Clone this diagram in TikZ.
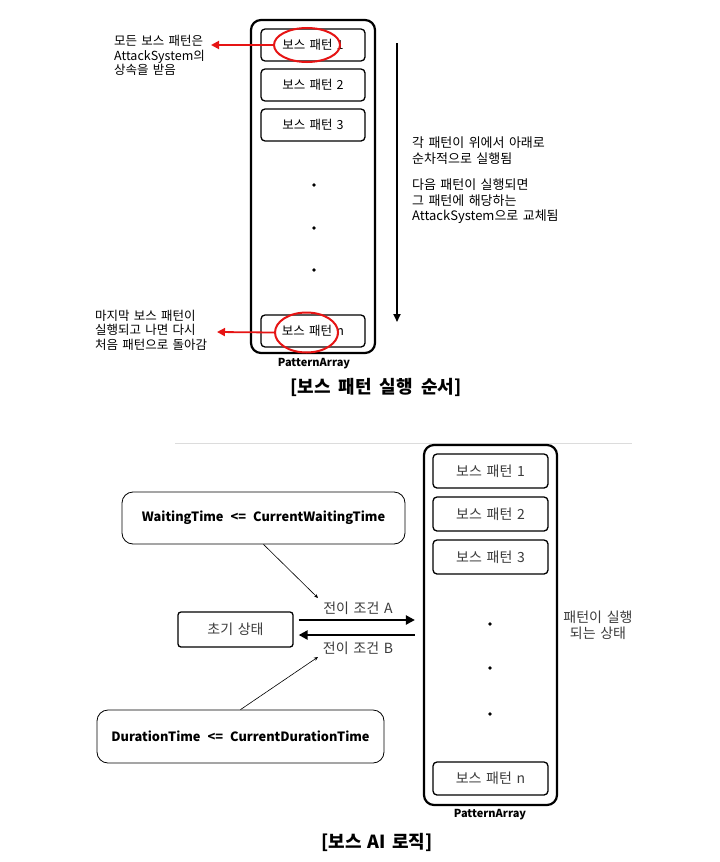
\documentclass[tikz,border=0pt]{standalone}
\usepackage{fontspec}
\setmainfont{Noto Sans CJK KR}[WordSpace=1.5]
\usetikzlibrary{shapes.geometric,arrows.meta}
\definecolor{txtgray}{RGB}{60,60,60}
\definecolor{sepgray}{RGB}{220,220,220}
\definecolor{ared}{RGB}{230,20,20}
\begin{document}
\begin{tikzpicture}[x=1pt,y=-1pt,
  outerbox/.style={draw, line width=2.2pt, rounded corners=10pt, inner sep=0pt},
  patbox/.style={draw, line width=1.3pt, rounded corners=4pt, inner sep=0pt, font=\fontsize{12.5}{15}\selectfont},
  patboxb/.style={patbox, text=txtgray, font=\fontsize{14}{16}\selectfont},
  dotnode/.style={circle, fill=black, inner sep=0pt, minimum size=3.8pt},
  arrlabel/.style={font=\bfseries\fontsize{11}{13}\selectfont},
  redell/.style={draw=ared, line width=2pt, ellipse, inner sep=0pt},
  redarrow/.style={draw=ared, line width=1.8pt, -{Triangle[length=8pt,width=8pt]}},
  varrow/.style={draw=black, line width=1.8pt, -{Triangle[length=8pt,width=7pt]}},
  note/.style={align=left, inner sep=0pt, font=\fontsize{12.5}{14.5}\selectfont},
  noteb/.style={align=left, inner sep=0pt, font=\fontsize{13}{15.5}\selectfont},
  titlestyle/.style={font=\bfseries\fontsize{18}{21}\selectfont},
  initbox/.style={draw, line width=1.3pt, rounded corners=3pt, inner sep=0pt, text=txtgray, font=\fontsize{14}{16}\selectfont},
  condbox/.style={draw, line width=0.8pt, rounded corners=11pt, inner sep=0pt, font=\bfseries\fontsize{12.8}{16}\selectfont},
  condlabel/.style={inner sep=0pt, text=txtgray, font=\fontsize{14}{16}\selectfont},
  trans/.style={line width=2.8pt, -{Triangle[length=9pt,width=9pt]}},
  thinarrow/.style={line width=0.6pt, -{Stealth[length=4pt,width=3.5pt]}}
]
\useasboundingbox (0,0) rectangle (720,862);
\fill[white] (0,0) rectangle (720,862);

% ---------- top part ----------
\node[outerbox, minimum width=124pt, minimum height=333pt] (outer1) at (313,186.5) {};
\node[patbox, minimum width=104pt, minimum height=32pt] (p1) at (313,45) {보스 패턴 1};
\node[patbox, minimum width=104pt, minimum height=32pt] (p2) at (313,85) {보스 패턴 2};
\node[patbox, minimum width=104pt, minimum height=32pt] (p3) at (313,125) {보스 패턴 3};
\node[patbox, minimum width=104pt, minimum height=32pt] (pn) at (313,331) {보스 패턴 n};
\node[dotnode] (d1) at (314,185) {};
\node[dotnode] (d2) at (314,228) {};
\node[dotnode] (d3) at (314,270) {};
\node[arrlabel] (pa1) at (314,364) {PatternArray};

\node[redell, minimum width=66pt, minimum height=34pt] (e1) at (307,45) {};
\node[redell, minimum width=63pt, minimum height=40pt] (e2) at (306.5,332.5) {};

\node[note, anchor=west] (t1) at (114,55.5) {모든 보스 패턴은\\AttackSystem의\\상속을 받음};
\coordinate (a1) at (211,45);
\draw[redarrow] (e1.west) -- (a1);

\node[note, anchor=west] (t2) at (95,330) {마지막 보스 패턴이\\실행되고 나면 다시\\처음 패턴으로 돌아감};
\coordinate (a2) at (217,332);
\draw[redarrow] (e2.west) -- (a2);

\coordinate (v1) at (397,43);
\coordinate (v2) at (397,322);
\draw[varrow] (v1) -- (v2);

\node[noteb, anchor=north west] (t3) at (412,137) {각 패턴이 위에서 아래로\\순차적으로 실행됨\\[11pt]다음 패턴이 실행되면\\그 패턴에 해당하는\\AttackSystem으로 교체됨};

\node[titlestyle] (ttl1) at (376,387) {[보스\hspace{8pt}패턴\hspace{8pt}실행\hspace{8pt}순서]};

\draw[sepgray, line width=0.8pt] (175,443) -- (632,443);

% ---------- bottom part ----------
\node[outerbox, minimum width=133pt, minimum height=360pt] (outer2) at (490.5,625) {};
\node[patboxb, minimum width=115pt, minimum height=34pt] (q1) at (490.5,471) {보스 패턴 1};
\node[patboxb, minimum width=115pt, minimum height=34pt] (q2) at (490.5,514) {보스 패턴 2};
\node[patboxb, minimum width=115pt, minimum height=34pt] (q3) at (490.5,557) {보스 패턴 3};
\node[patboxb, minimum width=115pt, minimum height=33pt] (qn) at (490.5,778.5) {보스 패턴 n};
\node[dotnode] (d4) at (490,624) {};
\node[dotnode] (d5) at (490,668) {};
\node[dotnode] (d6) at (490,714) {};
\node[arrlabel] (pa2) at (490,815) {PatternArray};

\node[condlabel, align=center, font=\fontsize{14}{16}\selectfont] (t4) at (598,625) {패턴이 실행\\되는 상태};

\node[initbox, minimum width=115pt, minimum height=35pt] (init) at (235.5,629.5) {초기 상태};

\node[condbox, minimum width=283pt, minimum height=52pt] (wt) at (263.5,518) {WaitingTime\hspace{7pt}<=\hspace{7pt}CurrentWaitingTime};
\node[condbox, minimum width=287pt, minimum height=53pt] (dt) at (240.5,736.5) {DurationTime\hspace{7pt}<=\hspace{7pt}CurrentDurationTime};

\draw[trans, shorten <=5pt, shorten >=8pt] ([yshift=9.5pt]init.east) -- ([yshift=9.5pt]init.east -| outer2.west);
\draw[trans, shorten <=8pt, shorten >=5pt] ([yshift=-5.5pt]init.east -| outer2.west) -- ([yshift=-5.5pt]init.east);

\node[condlabel] (la) at (358,608) {전이 조건 A};
\node[condlabel] (lb) at (358,648) {전이 조건 B};

\coordinate (w1) at (318,598);
\coordinate (w2) at (318,657);
\draw[thinarrow] (wt.south) -- (w1);
\draw[thinarrow] (dt.north) -- (w2);

\node[titlestyle] (ttl2) at (377,842) {[보스\hspace{6pt}AI\hspace{6pt}로직]};
\end{tikzpicture}
\end{document}
